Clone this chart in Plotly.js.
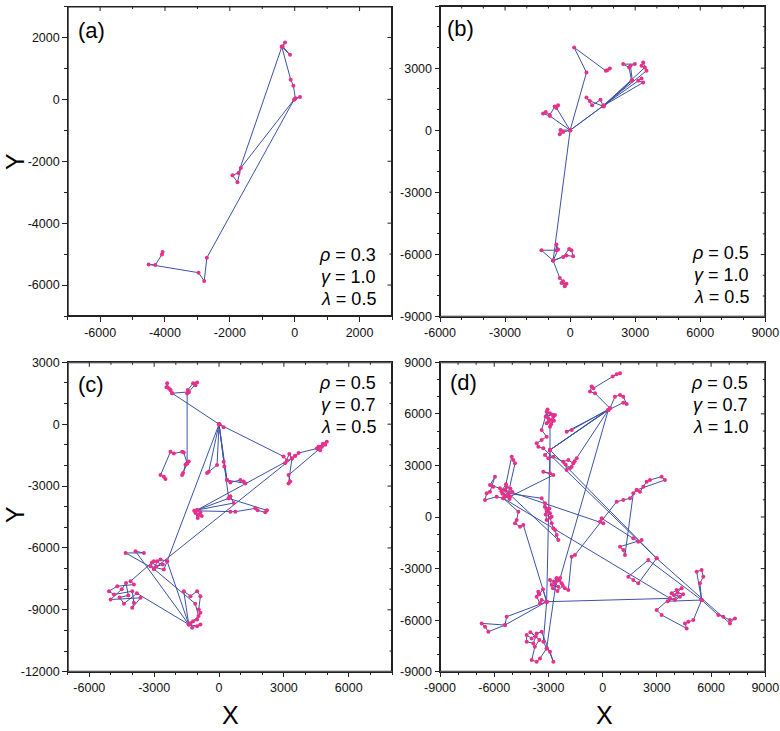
<!DOCTYPE html>
<html>
<head>
<meta charset="utf-8">
<script src="https://cdn.plot.ly/plotly-3.0.1.min.js"></script>
<style>html,body{margin:0;padding:0;background:#fff;}#chart{width:780px;height:731px;}</style>
</head>
<body>
<div id="chart"></div>
<script>
// ---------------- DATA ----------------
// Panel (a): rho=0.3, gamma=1.0, lambda=0.5
const aX = [0,164,21,-41,-123,-400,-298,-369,-144,-400,-1734,-1919,-1765,-1662,-21,-2709,-2791,-2965,-4504,-4299,-4094,-4073];
const aY = [0,75,32,441,634,1709,1838,1709,1441,1688,-2376,-2451,-2677,-2215,-11,-5117,-5870,-5601,-5332,-5354,-5010,-4934];

// Panel (b): rho=0.5, gamma=1.0, lambda=0.5
const bX = [1831,1708,1646,185,754,0,-446,-477,-323,0,-938,-1246,-1123,-938,-708,-554,-631,0,1523,1400,1015,754,908,1554,2831,2723,2446,2985,2785,2862,1523,3369,3138,3292,1554,3523,3369,3292,3446,1523,0,-785,-1323,-631,-631,-554,-785,-323,-46,62,138,-169,-785,-477,-323,-246,-400,-169];
const bY = [2984,2903,2871,4000,2790,0,16,-194,-81,0,694,807,887,742,1145,1210,1081,0,1177,1468,1210,1581,1419,1145,2387,3032,3194,3194,3113,2420,1177,2307,2387,2500,1210,2871,3274,3113,3032,1177,0,-6291,-5791,-5791,-5516,-5758,-6291,-6113,-5726,-5791,-6081,-6049,-6291,-7129,-7291,-7533,-7371,-7404];

// Panel (c): rho=0.5, gamma=0.7, lambda=0.5
const cX = [
 -2477,-2554,-2708,-2246,-2092,-1708,-1631,-1477,-1708,-1662,-1554,-1400,-1477,
 -1477,-1400,-1092,-1015,-1200,-1446,-1400,
 -2169,-2246,-2323,-2400,-2431,-2246,-2169,
 0,215,31,
 2985,3138,3050,3250,3369,3523,3677,4523,4677,4908,4985,4800,4600,4754,3215,3292,3215,3369,
 -3015,-2862,-2708,-2400,-2554,-3169,-3015,-2600,-2900,-3100,
 -4092,-3938,-4708,-5092,-4862,-4015,-3938,-4015,-3631,-5015,-4500,-4300,-4200,-4600,-4400,-3800,
 -1400,-1015,-862,-1246,-1323,-1200,-950,-1100,
 -3015,
 -4323,-3477,-3862,
 -1400,-1631,-1323,-1015,-862,-938,-862,-1015,-1400,
 -2400,
 0,
 -477,-554,-92,0,215,246,369,523,985,1138,1215,369,0,
 446,523,677,-1015,-862,-938,-985,-1092,-800,-1150,523,754,1677,1785,2138,2215,446,-1015,
 3369,3523];
const cY = [
 -2661,-2549,-2468,-1339,-1419,-1339,-1371,-1903,-2468,-2371,-1968,-1807,-1903,
 1484,1565,1887,2016,1984,1661,1565,
 1500,1661,1742,1984,1790,1661,1500,
 0,-145,-16,
 -1565,-1758,-1900,-1450,-1661,-1532,-1403,-1177,-1258,-1000,-855,-950,-1100,-1100,-2468,-2774,-2871,-1661,
 -7017,-6646,-6565,-6646,-7049,-6888,-6646,-6800,-6900,-6700,
 -7613,-7775,-7855,-8097,-8259,-8097,-8662,-8904,-8420,-8500,-8000,-7700,-8300,-8400,-8700,-8200,
 -9710,-9791,-9710,-9871,-9650,-9550,-9300,-8700,
 -7017,
 -6242,-6242,-6162,
 -9710,-8097,-8339,-8097,-8339,-8985,-9146,-9468,-9710,
 -6646,
 0,
 -2307,-2371,-1984,0,-1823,-2048,-2710,-2823,-2710,-2774,-2871,-2710,0,
 -3597,-3500,-3823,-4162,-4274,-4403,-4549,-4307,-4450,-4200,-4242,-4242,-4081,-4178,-4274,-4178,-3597,-4162,
 -1661,-1532];

// Panel (d): rho=0.5, gamma=0.7, lambda=1.0
const dX = [
 959,774,553,
 -516,-609,-701,-424,
 406,
 682,959,1143,1328,1143,
 313,
 -1992,-1715,
 406,
 -2914,
 -2914,-2821,-3006,-3098,-2914,-2729,-2637,-3098,-2990,-2850,-2700,-2780,-3150,-3050,
 -3375,-3098,-3375,-3651,-3559,-3282,
 2987,
 -2914,-3190,-3006,-2729,
 -2176,-1899,-1623,-1438,-1715,-1992,-2050,-1800,-1550,
 313,
 -2914,
 -2914,-3282,-2729,
 -5126,-5218,-5403,-5680,-6048,-6233,-5956,-6233,-6417,-6509,-5864,-5495,-5300,-5100,-5000,-5250,-5550,-5400,-5150,-5600,-5350,
 -5034,-4942,-4850,
 -5218,
 -3375,-3190,-3098,-3006,-2914,-2821,-3098,-3200,-2950,-3150,-2900,
 -2821,-2729,-2637,-2545,-2453,
 -5403,
 37,-148,-55,
 1696,1973,2157,
 959,1143,1235,
 1696,1881,2065,2250,2434,2618,
 3264,3448,
 1881,
 1512,1143,774,
 -1531,-1715,
 -1899,-2084,-2268,-2545,-2637,-2914,-2821,-2453,-2700,-2400,-2200,-2500,-2750,-2350,
 313,
 -2914,
 -3098,
 -3375,-3467,-3651,-3559,-3500,-3300,
 -3098,
 3725,4002,4278,3817,4094,4370,3950,4150,4450,3600,
 5477,
 5384,5569,5477,5200,
 5477,
 6399,6675,7044,7321,
 7044,
 2987,
 1973,1696,1420,
 2526,
 5477,
 5016,4739,4555,4647,
 3264,2987,
 3725,
 -5495,
 -4665,-4758,-4850,-4573,-4389,
 -3098,
 -5311,-5403,
 -6325,-6509,-6694,
 -5403,
 -3098,
 -3282,-3098,-2914,-2729,
 -3375,-3651,-3928,-4204,-4204,-3836,-3700,-4000,-3500,-3750,
 -3928,-3651,-3467,
 -3098,
 -2545];
const dY = [
 8361,8303,8167,
 7488,7585,7294,7197,
 6324,
 7003,7100,7003,6577,6654,
 6227,
 4966,5063,
 6324,
 3899,
 5257,5645,5742,6130,6033,5839,5936,5451,5550,5400,5600,5950,5850,6250,
 5063,4675,4481,4287,4093,3996,
 -2406,
 3899,3608,3414,3511,
 3220,3317,3123,3414,2929,2735,3050,2850,3250,
 6227,
 3899,
 2541,2638,2444,
 1183,1377,1571,1668,1765,1862,2347,1474,1377,989,1183,1086,1750,1650,1450,1250,1350,1200,1050,1500,1900,
 3511,3317,3123,
 1377,
 1086,795,407,310,213,19,-175,600,500,150,-50,
 -369,-660,-757,-1048,-1339,
 1571,
 -369,-272,-78,
 -1242,-1436,-1339,
 -1727,-1921,-2212,
 1377,1571,1474,1765,2056,2153,
 2347,2153,
 1571,
 1086,989,892,
 -2212,-2309,
 -4249,-4152,-3861,-3570,-3861,-3667,-3958,-4055,-3750,-3700,-4000,-4300,-4150,-3550,
 6227,
 3899,
 -4928,
 -4831,-5025,-4637,-4346,-4500,-4200,
 -4928,
 -4734,-4831,-4637,-4443,-4249,-4152,-4550,-4400,-4500,-4900,
 -4831,
 -3861,-3473,-3085,-3182,
 -4831,
 -5704,-5801,-5995,-5898,
 -6189,
 -2406,
 -3861,-3667,-3473,
 -2503,
 -4831,
 -5995,-6092,-6189,-6480,
 -5704,-5413,
 -4734,
 1086,
 310,-175,-369,-563,-466,
 -4928,
 -5801,-6286,
 -6674,-6383,-6189,
 -6286,
 -4928,
 -7256,-7644,-7838,-8420,
 -6674,-6771,-7062,-6868,-7256,-7353,-6950,-6700,-7150,-7550,
 -8323,-8420,-8226,
 -7644,
 -3570];

// Axis ranges and tick labels
const aXTicks = [-6000,-4000,-2000,0,2000];
const aYTicks = [-6000,-4000,-2000,0,2000];
const bXTicks = [-6000,-3000,0,3000,6000,9000];
const bYTicks = [-9000,-6000,-3000,0,3000,6000];
const cXTicks = [-6000,-3000,0,3000,6000];
const cYTicks = [-12000,-9000,-6000,-3000,0,3000];
const dXTicks = [-9000,-6000,-3000,0,3000,6000,9000];
const dYTicks = [-9000,-6000,-3000,0,3000,6000,9000];
const aRangeX = [-7000,3000], aRangeY = [-7000,3000];
const bRangeX = [-6000,9000], bRangeY = [-9000,6000];
const cRangeX = [-7000,8000], cRangeY = [-12000,3000];
const dRangeX = [-9000,9000], dRangeY = [-9000,9000];
const minorStep = 1000;

const panelLabels = ['(a)','(b)','(c)','(d)'];
const rhoVals = ['0.3','0.5','0.5','0.5'];
const gammaVals = ['1.0','1.0','0.7','0.7'];
const lambdaVals = ['0.5','0.5','0.5','1.0'];

// ---------------- LAYOUT ----------------
const W = 780, H = 731;
const LINE = '#3a53a4', PINK = '#e8308a', AX = '#222';
const FONT = 'Liberation Sans, Arial, Helvetica, sans-serif';
// pixel boxes of the four plot areas [x0,x1,y0,y1] (top-left origin)
const boxes = [
  [67.7, 392, 6.5, 316],
  [440, 765.3, 6, 316.7],
  [67.7, 392, 362.3, 671.7],
  [440, 765.3, 362.3, 671.7]
];
const xr = [aRangeX,bRangeX,cRangeX,dRangeX];
const yr = [aRangeY,bRangeY,cRangeY,dRangeY];
const xt = [aXTicks,bXTicks,cXTicks,dXTicks];
const yt = [aYTicks,bYTicks,cYTicks,dYTicks];
const xs = [aX,bX,cX,dX];
const ys = [aY,bY,cY,dY];

const layout = {
  width: W, height: H,
  margin: {l:0,r:0,t:0,b:0},
  paper_bgcolor: '#fff', plot_bgcolor: '#fff',
  showlegend: false,
  font: {family: FONT, color: '#111'},
  annotations: []
};
const data = [];
const frameTraces = [];

function baseAxis(range, ticks, domain) {
  return {
    domain: domain, range: range, autorange: false,
    tickmode: 'array', tickvals: ticks, ticktext: ticks.map(String),
    showgrid: false, zeroline: false,
    showline: true, mirror: true, linecolor: AX, linewidth: 1,
    ticks: 'outside', ticklen: 4.5, tickwidth: 1, tickcolor: AX,
    minor: {ticks: 'outside', ticklen: 2.5, tickwidth: 1, tickcolor: AX, dtick: minorStep, tick0: 0, showgrid: false},
    tickfont: {family: FONT, size: 12.5, color: '#111'}
  };
}

for (let i = 0; i < 4; i++) {
  const n = i + 1;
  const sfx = (n === 1 ? '' : String(n));
  const xn = 'x' + sfx, yn = 'y' + sfx;
  const b = boxes[i];
  const wpx = b[1] - b[0], hpx = b[3] - b[2];
  const xd = [b[0]/W, b[1]/W];
  const yd = [(H-b[3])/H, (H-b[2])/H];
  const xa = baseAxis(xr[i], xt[i], xd); xa.anchor = yn;
  const ya = baseAxis(yr[i], yt[i], yd); ya.anchor = xn;
  layout['xaxis' + sfx] = xa;
  layout['yaxis' + sfx] = ya;

  data.push({
    type: 'scatter', mode: 'lines+markers',
    x: xs[i], y: ys[i], xaxis: xn, yaxis: yn,
    line: {color: LINE, width: 1},
    marker: {color: PINK, size: 4, line: {width: 0}},
    hoverinfo: 'skip'
  });

  // frame (box) built from the axis ranges
  const x0 = xr[i][0], x1 = xr[i][1], y0 = yr[i][0], y1 = yr[i][1];
  frameTraces.push({
    type:'scatter', mode:'lines', xaxis: xn, yaxis: yn, hoverinfo:'skip', cliponaxis:false,
    x:[x0, x1, x1, x0, x0], y:[y0, y0, y1, y1, y0],
    line:{color: AX, width: 2}
  });
  // inward ticks on top and right sides
  const ux = (x1 - x0) / wpx, uy = (y1 - y0) / hpx;
  const tx = [], ty = [];
  const isMajX = v => xt[i].indexOf(v) >= 0, isMajY = v => yt[i].indexOf(v) >= 0;
  for (let v = Math.ceil(x0/minorStep)*minorStep; v <= x1; v += minorStep) {
    if (v === x0 || v === x1) continue;
    const len = (isMajX(v) ? 4.5 : 2.5) * uy;
    tx.push(v, v, null); ty.push(y1, y1 - len, null);
  }
  for (let v = Math.ceil(y0/minorStep)*minorStep; v <= y1; v += minorStep) {
    if (v === y0 || v === y1) continue;
    const len = (isMajY(v) ? 4.5 : 2.5) * ux;
    tx.push(x1, x1 - len, null); ty.push(v, v, null);
  }
  frameTraces.push({
    type:'scatter', mode:'lines', xaxis: xn, yaxis: yn, hoverinfo:'skip', connectgaps:false,
    x: tx, y: ty, line:{color: AX, width: 1}
  });
}
frameTraces.forEach(t => data.push(t));

// panel labels
const labelPos = [[76,30],[445,28],[76,384],[448,383]];
panelLabels.forEach((t, i) => {
  layout.annotations.push({
    xref:'paper', yref:'paper', x: labelPos[i][0]/W, y: (H-labelPos[i][1])/H,
    xanchor:'left', yanchor:'middle', showarrow:false, text: t,
    font:{family: FONT, size: 22, color:'#000'}
  });
});
// parameter text
const paramPos = [[378,[255,277,299]],[751,[253,275,297]],[378,[383,405,427]],[750,[383,405,427]]];
for (let i = 0; i < 4; i++) {
  const lines = ['<i>ρ</i> = ' + rhoVals[i], '<i>γ</i> = ' + gammaVals[i], '<i>λ</i> = ' + lambdaVals[i]];
  lines.forEach((t, k) => {
    layout.annotations.push({
      xref:'paper', yref:'paper', x: paramPos[i][0]/W, y: (H-paramPos[i][1][k])/H,
      xanchor:'right', yanchor:'middle', showarrow:false, text: t,
      font:{family: FONT, size: 18, color:'#000'}
    });
  });
}
// axis titles
[[15,162],[15,515]].forEach(p => layout.annotations.push({
  xref:'paper', yref:'paper', x: p[0]/W, y: (H-p[1])/H, xanchor:'center', yanchor:'middle',
  showarrow:false, text:'Y', textangle:-90, font:{family: FONT, size: 25, color:'#000'}
}));
[[230,715],[604,715]].forEach(p => layout.annotations.push({
  xref:'paper', yref:'paper', x: p[0]/W, y: (H-p[1])/H, xanchor:'center', yanchor:'middle',
  showarrow:false, text:'X', font:{family: FONT, size: 25, color:'#000'}
}));

Plotly.newPlot('chart', data, layout, {displayModeBar:false});
</script>
</body>
</html>
